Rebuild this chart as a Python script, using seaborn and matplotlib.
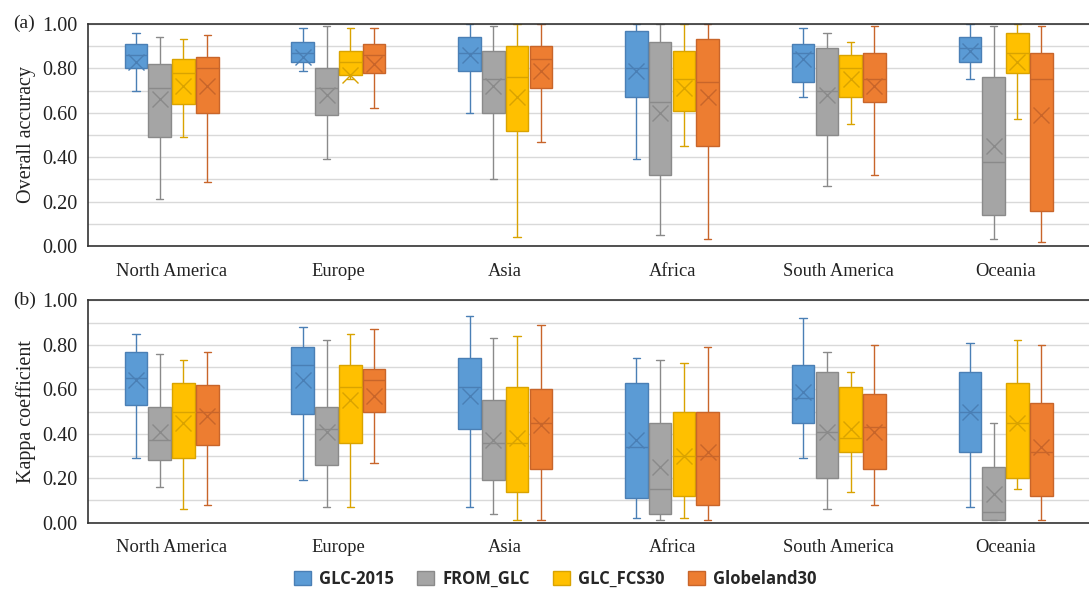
import numpy as np
import pandas as pd
import seaborn as sns
import matplotlib.pyplot as plt
from matplotlib.patches import Patch
from matplotlib.ticker import MultipleLocator, FormatStrFormatter

regions = ["North America", "Europe", "Asia", "Africa", "South America", "Oceania"]
products = ["GLC-2015", "FROM_GLC", "GLC_FCS30", "Globeland30"]

# (a) overall accuracy: rows = products, columns = regions
oa_min = [[0.70, 0.79, 0.60, 0.39, 0.67, 0.75],
          [0.21, 0.39, 0.30, 0.05, 0.27, 0.03],
          [0.49, 0.75, 0.04, 0.45, 0.55, 0.57],
          [0.29, 0.62, 0.47, 0.03, 0.32, 0.02]]
oa_q1 = [[0.80, 0.83, 0.79, 0.67, 0.74, 0.83],
         [0.49, 0.59, 0.60, 0.32, 0.50, 0.14],
         [0.64, 0.77, 0.52, 0.61, 0.67, 0.78],
         [0.60, 0.78, 0.71, 0.45, 0.65, 0.16]]
oa_med = [[0.86, 0.87, 0.87, 0.80, 0.87, 0.89],
          [0.71, 0.71, 0.75, 0.65, 0.70, 0.38],
          [0.78, 0.83, 0.76, 0.75, 0.80, 0.87],
          [0.80, 0.86, 0.84, 0.74, 0.75, 0.75]]
oa_q3 = [[0.91, 0.92, 0.94, 0.97, 0.91, 0.94],
         [0.82, 0.80, 0.88, 0.92, 0.89, 0.76],
         [0.84, 0.88, 0.90, 0.88, 0.86, 0.96],
         [0.85, 0.91, 0.90, 0.93, 0.87, 0.87]]
oa_max = [[0.96, 0.98, 1.00, 1.00, 0.98, 1.00],
          [0.94, 0.99, 0.99, 1.00, 0.96, 0.99],
          [0.93, 0.98, 1.00, 1.00, 0.92, 1.00],
          [0.95, 0.98, 1.00, 1.00, 0.99, 0.99]]
oa_mean = [[0.83, 0.85, 0.86, 0.79, 0.84, 0.88],
           [0.66, 0.68, 0.72, 0.60, 0.68, 0.45],
           [0.72, 0.77, 0.67, 0.71, 0.75, 0.83],
           [0.72, 0.82, 0.79, 0.67, 0.72, 0.59]]

# (b) kappa coefficient
ka_min = [[0.29, 0.19, 0.07, 0.02, 0.29, 0.07],
          [0.16, 0.07, 0.04, 0.01, 0.06, 0.01],
          [0.06, 0.07, 0.01, 0.02, 0.14, 0.15],
          [0.08, 0.27, 0.01, 0.01, 0.08, 0.01]]
ka_q1 = [[0.53, 0.49, 0.42, 0.11, 0.45, 0.32],
         [0.28, 0.26, 0.19, 0.04, 0.20, 0.01],
         [0.29, 0.36, 0.14, 0.12, 0.32, 0.20],
         [0.35, 0.50, 0.24, 0.08, 0.24, 0.12]]
ka_med = [[0.65, 0.71, 0.61, 0.34, 0.56, 0.50],
          [0.37, 0.42, 0.36, 0.15, 0.41, 0.05],
          [0.50, 0.61, 0.36, 0.30, 0.38, 0.45],
          [0.50, 0.64, 0.45, 0.30, 0.43, 0.32]]
ka_q3 = [[0.77, 0.79, 0.74, 0.63, 0.71, 0.68],
         [0.52, 0.52, 0.55, 0.45, 0.68, 0.25],
         [0.63, 0.71, 0.61, 0.50, 0.61, 0.63],
         [0.62, 0.69, 0.60, 0.50, 0.58, 0.54]]
ka_max = [[0.85, 0.88, 0.93, 0.74, 0.92, 0.81],
          [0.76, 0.82, 0.83, 0.73, 0.77, 0.45],
          [0.73, 0.85, 0.84, 0.72, 0.68, 0.82],
          [0.77, 0.87, 0.89, 0.79, 0.80, 0.80]]
ka_mean = [[0.64, 0.64, 0.57, 0.37, 0.59, 0.50],
           [0.41, 0.41, 0.37, 0.25, 0.41, 0.13],
           [0.45, 0.55, 0.38, 0.30, 0.42, 0.45],
           [0.48, 0.57, 0.44, 0.32, 0.41, 0.34]]

fill_colors = dict(zip(products, ["#5B9BD5", "#A5A5A5", "#FFC000", "#ED7D31"]))
edge_colors = dict(zip(products, ["#4A7FB5", "#8A8A8A", "#D9A300", "#C8652A"]))

sns.set_theme(style="white")
plt.rcParams["font.family"] = ["Liberation Serif", "DejaVu Serif"]

BOX_W = 0.57


def long_table(stats):
    rows = []
    for i, prod in enumerate(products):
        for j, reg in enumerate(regions):
            for s in stats:
                rows.append({"region": reg, "product": prod, "value": s[i][j]})
    return pd.DataFrame(rows)


def draw_panel(ax, stats, means, ylabel, tag):
    box_df = long_table(stats)
    mean_df = long_table([means])
    # one call per product so each gets its own darker outline colour
    for prod in products:
        sns.boxplot(data=box_df[box_df["product"] == prod], x="region", y="value",
                    hue="product", order=regions, hue_order=products, dodge=True,
                    palette=fill_colors, saturation=1, width=BOX_W, gap=0.05,
                    whis=(0, 100), linecolor=edge_colors[prod], linewidth=1.0,
                    fliersize=0, capwidths=0.045, legend=False, ax=ax)
    sns.pointplot(data=mean_df, x="region", y="value", hue="product",
                  order=regions, hue_order=products, palette=edge_colors,
                  dodge=0.75 * BOX_W, errorbar=None, marker="x", linestyle="none",
                  markersize=11, markeredgewidth=1.0, legend=False, ax=ax)
    ax.set_xlim(-0.5, 5.5)
    ax.set_ylim(0, 1.0)
    ax.yaxis.set_major_locator(MultipleLocator(0.2))
    ax.yaxis.set_minor_locator(MultipleLocator(0.1))
    ax.yaxis.set_major_formatter(FormatStrFormatter("%.2f"))
    ax.grid(axis="y", which="both", color="#D9D9D9", linewidth=1.0)
    ax.set_axisbelow(True)
    ax.tick_params(length=0, colors="#222222")
    ax.tick_params(axis="x", pad=12, labelsize=13.3)
    ax.tick_params(axis="y", pad=8, labelsize=14.5)
    ax.set_xlabel("")
    ax.set_ylabel(ylabel, fontsize=14.5, color="#222222", labelpad=4)
    for side in ["top", "left", "bottom"]:
        ax.spines[side].set_color("#333333")
        ax.spines[side].set_linewidth(1.2)
    ax.spines["right"].set_visible(False)
    ax.text(-0.075, 1.0, tag, transform=ax.transAxes, fontsize=14,
            ha="left", va="center", color="#222222")


fig = plt.figure(figsize=(10.89, 5.96), dpi=100)
ax_a = fig.add_axes([0.081, 0.587, 0.919, 0.373])
ax_b = fig.add_axes([0.081, 0.123, 0.919, 0.373])

draw_panel(ax_a, [oa_min, oa_q1, oa_med, oa_q3, oa_max], oa_mean, "Overall accuracy", "(a)")
draw_panel(ax_b, [ka_min, ka_q1, ka_med, ka_q3, ka_max], ka_mean, "Kappa coefficient", "(b)")

handles = [Patch(facecolor=fill_colors[p], edgecolor=edge_colors[p], label=p) for p in products]
fig.legend(handles=handles, loc="center", bbox_to_anchor=(0.51, 0.029), ncol=4,
           frameon=False, handlelength=1.0, handleheight=1.0, handletextpad=0.5,
           columnspacing=1.4, prop={"family": "Open Sans", "weight": "bold", "size": 12})

fig.savefig("out.png", dpi=100)
